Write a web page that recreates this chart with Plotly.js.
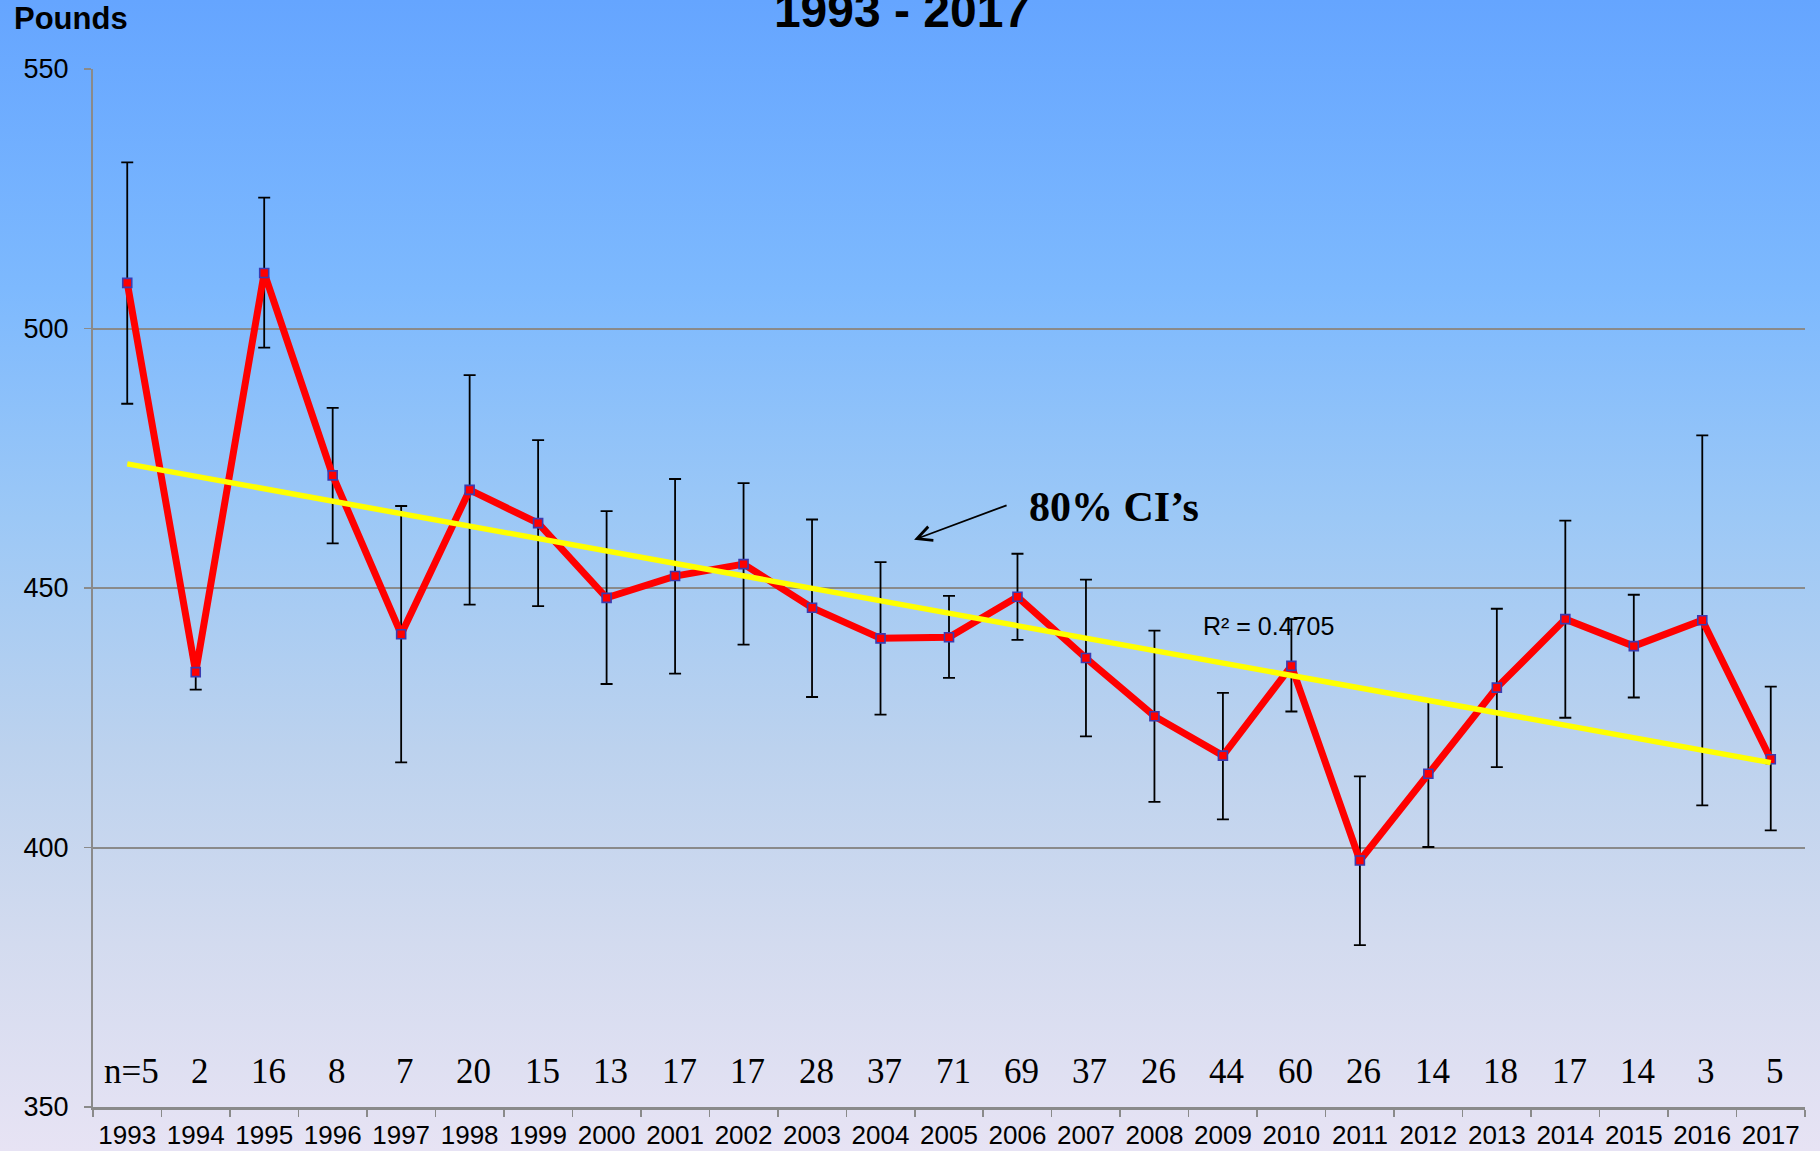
<!DOCTYPE html>
<html>
<head>
<meta charset="utf-8">
<script src="https://cdn.plot.ly/plotly-3.0.1.min.js"></script>
<style>
  html, body { margin: 0; padding: 0; }
  body {
    width: 1820px; height: 1151px; overflow: hidden;
    background: linear-gradient(to bottom, #65a5ff 0%, #7db9fe 25%, #9cc8f6 45%, #bcd2ee 65%, #d3dbef 82%, #e7e3f4 100%);
  }
  #chart { width: 1820px; height: 1151px; }
</style>
</head>
<body>
<div id="chart"></div>
<script>
// ---- data ----
const years = ['1993','1994','1995','1996','1997','1998','1999','2000','2001','2002','2003','2004','2005',
               '2006','2007','2008','2009','2010','2011','2012','2013','2014','2015','2016','2017'];
const meanPounds = [508.8, 433.8, 510.7, 471.7, 441.1, 468.9, 462.5, 448.1, 452.3, 454.6, 446.2, 440.3, 440.5,
                    448.3, 436.5, 425.3, 417.7, 435.0, 397.5, 414.2, 430.8, 444.0, 438.8, 443.8, 417.0];
const ciUpper = [532.0, 437.2, 525.2, 484.7, 465.8, 491.0, 478.5, 464.8, 471.0, 470.2, 463.2, 455.0, 448.5,
                 456.6, 451.6, 441.8, 429.8, 444.0, 413.7, 428.3, 446.0, 463.0, 448.7, 479.4, 431.0];
const ciLower = [485.5, 430.4, 496.3, 458.6, 416.4, 446.8, 446.5, 431.5, 433.5, 439.1, 429.0, 425.6, 432.7,
                 440.0, 421.4, 408.8, 405.4, 426.2, 381.2, 400.1, 415.5, 425.0, 428.9, 408.1, 403.3];
const sampleSizes = ['n=5','2','16','8','7','20','15','13','17','17','28','37','71',
                     '69','37','26','44','60','26','14','18','17','14','3','5'];
const yTicks = [350, 400, 450, 500, 550];
const chartTitle = '1993 - 2017';
const yLabel = 'Pounds';
const ciNote = '80% CI\u2019s';
const r2Label = 'R\u00b2 = 0.4705';

// ---- derived ----
const errPlus = meanPounds.map((v, i) => ciUpper[i] - v);
const errMinus = meanPounds.map((v, i) => v - ciLower[i]);

// least-squares linear trend over the year index
const n = meanPounds.length;
const xs = meanPounds.map((_, i) => i);
const mx = xs.reduce((a, b) => a + b, 0) / n;
const my = meanPounds.reduce((a, b) => a + b, 0) / n;
let sxy = 0, sxx = 0;
for (let i = 0; i < n; i++) { sxy += (xs[i] - mx) * (meanPounds[i] - my); sxx += (xs[i] - mx) ** 2; }
const slope = sxy / sxx;
const intercept = my - slope * mx;
const trendX = [years[0], years[n - 1]];
const trendY = [intercept, intercept + slope * (n - 1)];

const SANS = 'Liberation Sans, Arial, sans-serif';
const SERIF = 'Liberation Serif, Times New Roman, serif';

const traces = [
  {
    type: 'scatter', mode: 'lines+markers', x: years, y: meanPounds,
    line: { color: '#ff0000', width: 7 },
    marker: { symbol: 'square', size: 9, color: '#ff0000', line: { color: '#3b3bb0', width: 1.6 } },
    error_y: { type: 'data', symmetric: false, array: errPlus, arrayminus: errMinus,
               color: '#000000', thickness: 1.8, width: 6 },
    hoverinfo: 'x+y'
  },
  {
    type: 'scatter', mode: 'lines', x: trendX, y: trendY,
    line: { color: '#ffff00', width: 5.5 }, hoverinfo: 'skip'
  }
];

const annotations = sampleSizes.map((s, i) => ({
  xref: 'x', yref: 'y', x: i, y: 356.8, text: s, showarrow: false,
  xanchor: 'center', yanchor: 'middle',
  xshift: 4, font: { family: SERIF, size: 35, color: '#000000' }
}));

annotations.push({
  xref: 'paper', yref: 'paper', x: -0.0473, y: 1.049, xanchor: 'left', yanchor: 'middle',
  text: yLabel, showarrow: false, font: { family: SANS, size: 31, color: '#000', weight: 'bold' }
});
annotations.push({
  xref: 'x', yref: 'y', x: 14.41, y: 465.6, xanchor: 'center', yanchor: 'middle',
  text: ciNote, showarrow: false, font: { family: SERIF, size: 42, color: '#000', weight: 'bold' }
});
annotations.push({
  xref: 'x', yref: 'y', x: 11.49, y: 459.3, text: '', showarrow: true,
  axref: 'pixel', ayref: 'pixel', ax: 94, ay: -35,
  arrowhead: 5, arrowsize: 1.6, arrowwidth: 1.8, arrowcolor: '#000', standoff: 0, startstandoff: 0,
  font: { size: 1 }
});
annotations.push({
  xref: 'x', yref: 'y', x: 16.67, y: 442.6, xanchor: 'center', yanchor: 'middle',
  text: r2Label, showarrow: false, font: { family: SANS, size: 25, color: '#000' }
});

const layout = {
  width: 1820, height: 1151,
  margin: { l: 93, r: 15, t: 69, b: 44, pad: 0 },
  paper_bgcolor: 'rgba(0,0,0,0)', plot_bgcolor: 'rgba(0,0,0,0)',
  showlegend: false,
  title: {
    text: chartTitle, x: 0.4956, xanchor: 'center', xref: 'container',
    y: 0.9915, yanchor: 'middle', yref: 'container',
    font: { family: 'Liberation Sans Narrow, Arial Narrow, Liberation Sans, Arial, sans-serif', size: 48, color: '#000', weight: 'bold' }
  },
  xaxis: {
    type: 'category', categoryorder: 'array', categoryarray: years,
    range: [-0.5, n - 0.5], fixedrange: true,
    showgrid: false, zeroline: false,
    showline: true, linecolor: '#8a8a8a', linewidth: 2.5,
    ticks: 'outside', tickson: 'boundaries', ticklen: 7, tickcolor: '#8a8a8a', tickwidth: 1.5,
    tickfont: { family: SANS, size: 26, color: '#000' }, ticklabelstandoff: 3
  },
  yaxis: {
    range: [350, 550], tickvals: yTicks, ticktext: yTicks.map(String), fixedrange: true,
    showgrid: true, gridcolor: '#8a8a8a', gridwidth: 2, zeroline: false,
    showline: true, linecolor: '#8a8a8a', linewidth: 2,
    ticks: 'outside', ticklen: 7, tickcolor: '#8a8a8a', tickwidth: 1.5,
    tickfont: { family: SANS, size: 27, color: '#000' }, ticklabelstandoff: 10
  },
  annotations: annotations
};

Plotly.newPlot('chart', traces, layout, { displayModeBar: false, staticPlot: true });
</script>
</body>
</html>
